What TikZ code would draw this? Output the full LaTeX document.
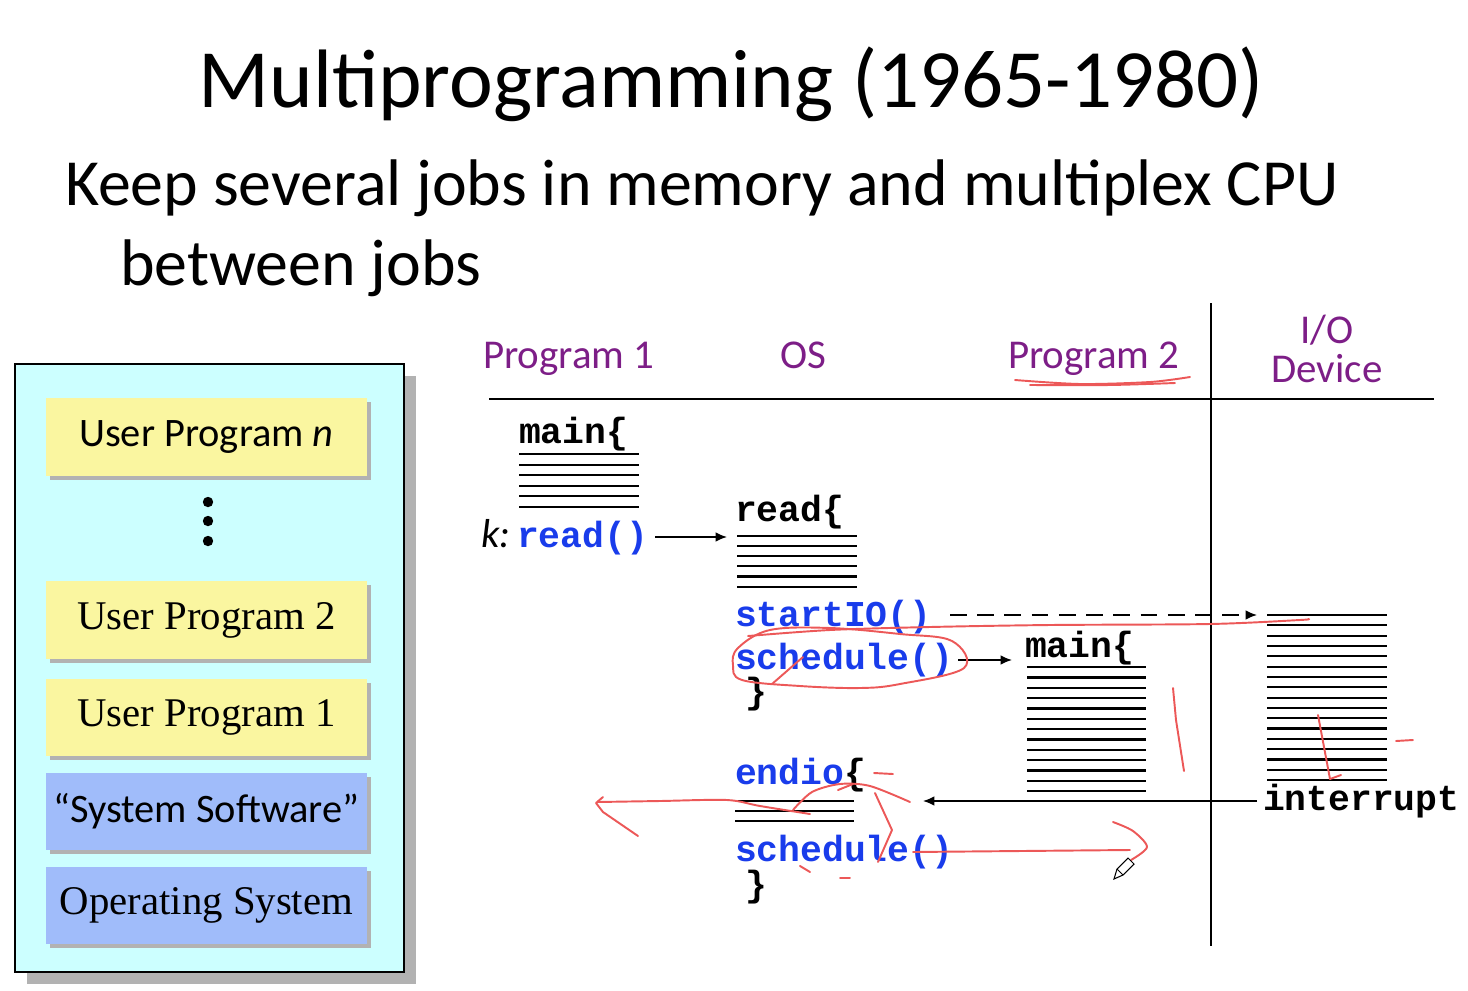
\documentclass[tikz,border=0pt]{standalone}
\usepackage{fontspec}
\setmainfont{Carlito}
\newfontfamily\timesf{Liberation Serif}
\newfontfamily\codef{Liberation Mono}
\usetikzlibrary{arrows.meta,shadows}

\definecolor{panelcyan}{RGB}{204,255,255}
\definecolor{progyellow}{RGB}{250,246,160}
\definecolor{sysblue}{RGB}{160,188,250}
\definecolor{shadowgrey}{RGB}{178,178,178}
\definecolor{headpurple}{RGB}{125,30,135}
\definecolor{codeblue}{RGB}{25,60,235}
\definecolor{inkred}{RGB}{236,88,88}

\begin{document}
\begin{tikzpicture}[x=0.02cm, y=-0.02cm,
  txt/.style={inner sep=0, outer sep=0, anchor=base west},
  head/.style={inner sep=0, outer sep=0, font=\fontsize{23.3}{27}\selectfont, text=headpurple},
  code/.style={txt, font=\codef\bfseries\fontsize{20.7}{24}\selectfont},
  bluecode/.style={code, text=codeblue},
  layer/.style={minimum width=183.1pt, minimum height=44.2pt, inner sep=0,
    general shadow={fill=shadowgrey, shadow xshift=2.3pt, shadow yshift=-2.3pt}},
  userlayer/.style={layer, fill=progyellow},
  syslayer/.style={layer, fill=sysblue},
  calfont/.style={font=\fontsize{23}{27}\selectfont},
  timfont/.style={font=\timesf\fontsize{23.2}{27}\selectfont},
  rule/.style={line width=1.2pt},
  stackline/.style={line width=1.3pt},
  arr/.style={line width=0.9pt, -{Latex[length=6.5pt, width=5.5pt]}},
  ink/.style={draw=inkred, line width=1.1pt, line cap=round, line join=round}
]
\useasboundingbox (0,0) rectangle (1468,991);

% ---------- headings ----------
\node[inner sep=0, anchor=base, font=\fontsize{47.2}{50}\selectfont] (title) at (731.5,107)
  {Multiprogramming (1965-1980)};
\node[txt, font=\fontsize{37.5}{42}\selectfont] (sub1) at (65,205)
  {Keep several jobs in memory and multiplex CPU};
\node[txt, font=\fontsize{37.5}{42}\selectfont] (sub2) at (120,285) {between jobs};

% ---------- memory layout ----------
\node[draw=black, line width=1.3pt, fill=panelcyan, minimum width=221.7pt, minimum height=345.8pt,
  inner sep=0, general shadow={fill=shadowgrey, shadow xshift=6.8pt, shadow yshift=-6.8pt}]
  (panel) at (209.5,668) {};
\node[userlayer, calfont] (upn) at (206.5,437) {User Program \textit{n}};
\foreach \yy in {502,521,541} \fill (208,\yy) circle[radius=5.2];
\node[userlayer, timfont] (up2) at (206.5,620) {User Program 2};
\node[userlayer, timfont] (up1) at (206.5,717.5) {User Program 1};
\node[syslayer, calfont] (sys) at (206.5,811.5) {“System Software”};
\node[syslayer, timfont] (os) at (206.5,905.5) {Operating System};

% ---------- timeline axes ----------
\coordinate (hl) at (489,399);  \coordinate (hr) at (1434,399);
\coordinate (vt) at (1211,303); \coordinate (vb) at (1211,946);
\draw[rule] (hl) -- (hr);
\draw[rule] (vt) -- (vb);

\node[head, anchor=base west] (p1) at (483,368) {Program 1};
\node[head, anchor=base west] (oshead) at (780,368) {OS};
\node[head, anchor=base west] (p2) at (1008,368) {Program 2};
\node[head, anchor=base] (io1) at (1327,343) {I/O};
\node[head, anchor=base] (io2) at (1327,382) {Device};

% ---------- code fragments ----------
\node[code] (main1) at (519,443) {main\{};
\node[txt, font=\itshape\fontsize{23}{27}\selectfont] (klab) at (481,547) {k:};
\node[bluecode] (rd) at (517,547) {read()};
\node[code] (readf) at (735,521) {read\{};
\node[bluecode] (sio) at (735,626) {startIO()};
\node[bluecode] (sch1) at (735,669) {schedule()};
\node[code] (br1) at (745,703) {\}};
\node[code] (main2) at (1025,657) {main\{};
\node[bluecode] (endio) at (735,784) {endio\textcolor{black}{\{}};
\node[bluecode] (sch2) at (735,861) {schedule()};
\node[code] (br2) at (745,896) {\}};
\node[code] (intr) at (1263,810) {interrupt};

% ---------- bodies of code (stacked rules) ----------
\foreach \i in {0,...,5} \draw[stackline] (519,454.3+10.48*\i) -- (639,454.3+10.48*\i);
\foreach \i in {0,...,5} \draw[stackline] (737,535.7+10.2*\i) -- (857,535.7+10.2*\i);
\foreach \i in {0,...,12} \draw[stackline] (1027,667.3+10.31*\i) -- (1146,667.3+10.31*\i);
\foreach \i in {0,...,16} \draw[stackline] (1267,615+10.33*\i) -- (1387,615+10.33*\i);
\foreach \i in {0,...,2} \draw[stackline] (735,800.7+10.3*\i) -- (854,800.7+10.3*\i);

% ---------- control transfers ----------
\coordinate (rdout) at (655,537);   \coordinate (readin) at (727,537);
\coordinate (sioout) at (950,615);  \coordinate (devin) at (1257,615);
\coordinate (schout) at (958,660);  \coordinate (main2in) at (1012,660);
\coordinate (intout) at (1257,801); \coordinate (endioin) at (923,801);
\draw[arr] (rdout) -- (readin);
\draw[arr, dash pattern=on 9.5pt off 6pt] (sioout) -- (devin);
\draw[arr] (schout) -- (main2in);
\draw[arr] (intout) -- (endioin);

% ---------- red pen marks ----------
\draw[ink] plot[smooth] coordinates {(1015,380) (1080,384) (1150,382) (1190,377)};
\draw[ink] plot[smooth] coordinates {(1030,385) (1110,385) (1175,383)};
\draw[ink] plot[smooth] coordinates {(748,636) (830,630) (930,627) (1050,625) (1210,624) (1300,620) (1308,619)};
\draw[ink] plot[smooth cycle, tension=0.6] coordinates {(738,648) (770,630) (830,628) (900,634) (952,641) (964,668) (900,684) (860,688) (800,686) (742,680) (733,665)};
\draw[ink] (772,684) -- (803,657);
\draw[ink] (1173,688) -- (1176,720) -- (1184,771);
\draw[ink] (1318,715) -- (1330,779) -- (1341,775);
\draw[ink] (1396,741) -- (1413,740);
% return path drawn through endio
\draw[ink] plot[smooth] coordinates {(810,814) (760,806) (727,800) (660,801) (598,802)};
\draw[ink] (603,797) -- (596,803) -- (603,812) -- (638,836);
\draw[ink] plot[smooth] coordinates {(793,810) (812,792) (840,784) (870,786) (910,802)};
\draw[ink] (838,790) -- (853,784);
\draw[ink] (875,793) -- (892,830) -- (878,862);
\draw[ink] (874,773) -- (893,774);
\draw[ink] (800,866) -- (810,872);
\draw[ink] (840,878) -- (850,878);
% forward path after the second schedule()
\draw[ink] (913,852) -- (1130,850);
\draw[ink] plot[smooth] coordinates {(1113,822) (1133,831) (1147,847) (1131,860)};
% pen cursor
\draw[line width=0.6pt, fill=white] (1114,879) -- (1117,869) -- (1128,858) -- (1134,864) -- (1123,875) -- cycle;
\draw[line width=0.6pt] (1117,869) -- (1123,875);
\end{tikzpicture}
\end{document}
